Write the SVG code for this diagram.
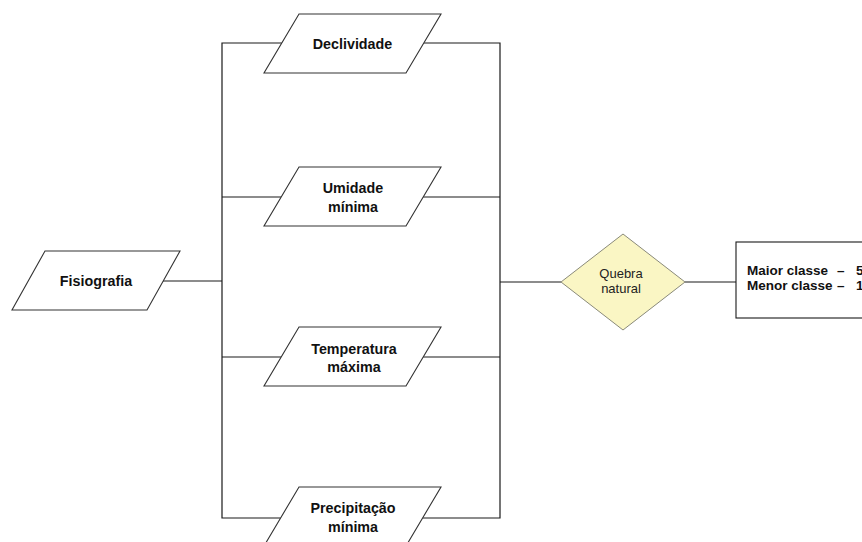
<svg xmlns="http://www.w3.org/2000/svg" width="862" height="542" viewBox="0 0 862 542">
<style>
.para{fill:#ffffff;stroke:#333333;stroke-width:1.1}
.lbl{font-family:"Liberation Sans",Arial,sans-serif;font-weight:bold;font-size:14.3px;fill:#111111;text-anchor:middle}
.ln{fill:none;stroke:#1a1a1a;stroke-width:1.2}
.dia{fill:#faf6c4;stroke:#8a8a7a;stroke-width:1}
.dtxt{font-family:"Liberation Sans",Arial,sans-serif;font-size:13px;fill:#222222;text-anchor:middle}
.box{fill:#ffffff;stroke:#1a1a1a;stroke-width:1.1}
.btxt{font-family:"Liberation Sans",Arial,sans-serif;font-weight:bold;font-size:13.5px;fill:#111111}
</style>
<rect width="862" height="542" fill="#ffffff"/>
<g id="connectors">
<polyline class="ln" points="281.8,43 222,43 222,518 280.6,518"/>
<polyline class="ln" points="423.8,43 500,43 500,518 422.6,518"/>
<line class="ln" x1="222" y1="197" x2="281.2" y2="197"/>
<line class="ln" x1="423.2" y1="197" x2="500" y2="197"/>
<line class="ln" x1="222" y1="357" x2="281.2" y2="357"/>
<line class="ln" x1="423.2" y1="357" x2="500" y2="357"/>
<line class="ln" x1="163" y1="281" x2="222" y2="281"/>
<line class="ln" x1="500" y1="282" x2="561" y2="282"/>
<line class="ln" x1="685" y1="282" x2="736" y2="282"/>
</g>
<g id="fisiografia">
<polygon class="para" points="45,251 180,251 147,310 12,310"/>
<text class="lbl" x="96" y="286">Fisiografia</text>
</g>
<g id="declividade">
<polygon class="para" points="299,14 441,14 406,73 264,73"/>
<text class="lbl" x="352.5" y="49">Declividade</text>
</g>
<g id="umidade">
<polygon class="para" points="299,167 441,167 406,226 264,226"/>
<text class="lbl" x="353" y="193">Umidade</text>
<text class="lbl" x="353" y="212">mínima</text>
</g>
<g id="temperatura">
<polygon class="para" points="299,327 441,327 406,386 264,386"/>
<text class="lbl" x="354" y="354">Temperatura</text>
<text class="lbl" x="354" y="372">máxima</text>
</g>
<g id="precipitacao">
<polygon class="para" points="299,487 441,487 406,546 264,546"/>
<text class="lbl" x="353" y="513">Precipitação</text>
<text class="lbl" x="353" y="532">mínima</text>
</g>
<g id="quebra">
<polygon class="dia" points="623,234 685,282 623,330 561,282"/>
<text class="dtxt" x="621" y="278">Quebra</text>
<text class="dtxt" x="621" y="293">natural</text>
</g>
<g id="classes">
<rect class="box" x="736" y="242" width="140" height="76"/>
<text class="btxt" x="747" y="275">Maior classe<tspan x="837">–</tspan><tspan x="856">5</tspan></text>
<text class="btxt" x="747" y="290">Menor classe<tspan x="837">–</tspan><tspan x="856">1</tspan></text>
</g>
</svg>
